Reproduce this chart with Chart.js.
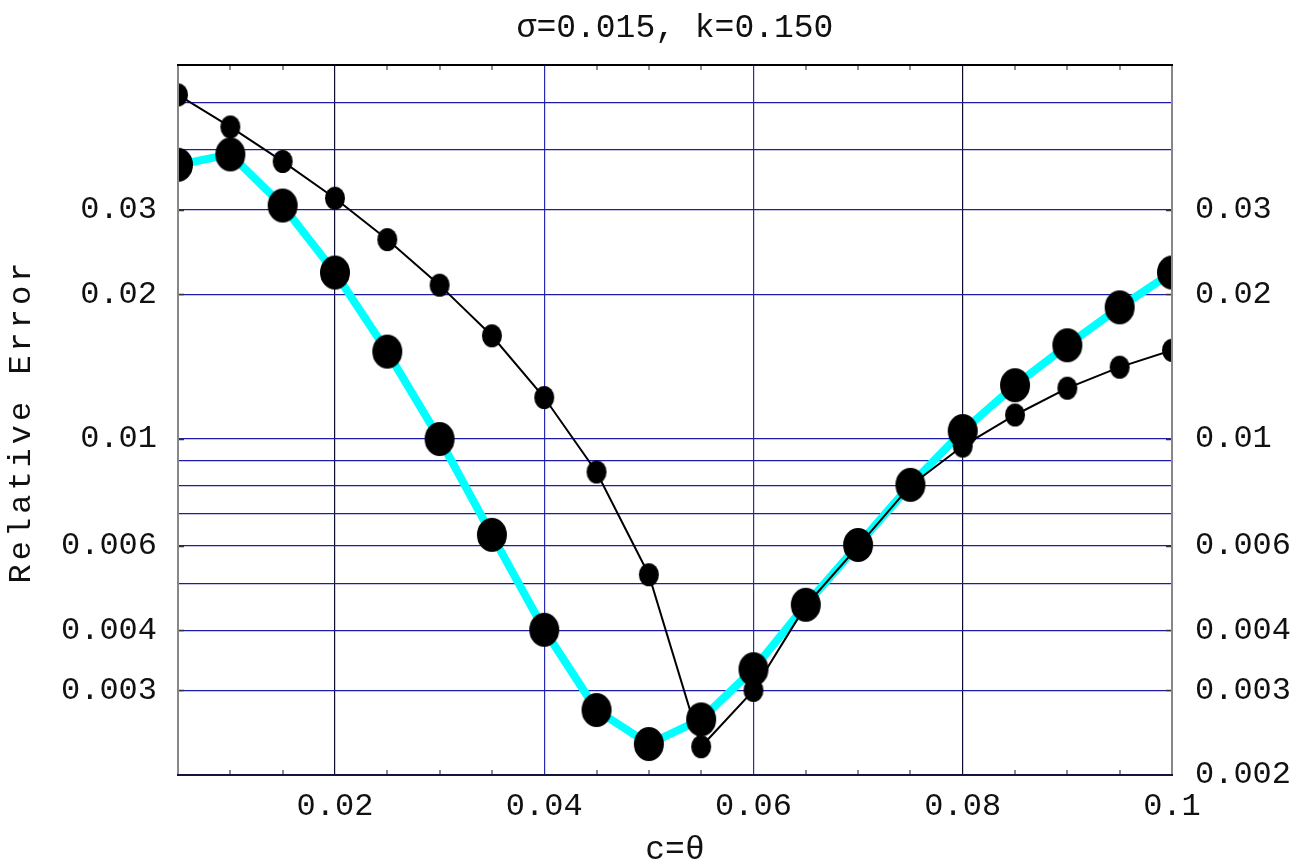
<!DOCTYPE html>
<html>
<head>
<meta charset="utf-8">
<script src="https://cdn.jsdelivr.net/npm/chart.js@4.4.1/dist/chart.umd.min.js"></script>
<style>
  html, body { margin: 0; padding: 0; background: #fff; }
  #wrap { width: 1305px; height: 868px; }
</style>
</head>
<body>
<div id="wrap"><canvas id="chart" width="1305" height="868"></canvas></div>
<script>
// c = theta sample points
const cTheta = [0.005, 0.01, 0.015, 0.02, 0.025, 0.03, 0.035, 0.04, 0.045, 0.05,
                0.055, 0.06, 0.065, 0.07, 0.075, 0.08, 0.085, 0.09, 0.095, 0.1];

// relative error, thick cyan curve
const errFit = [0.0372, 0.0391, 0.0306, 0.0222, 0.0152, 0.0100, 0.00632, 0.00401, 0.00273, 0.00232,
                0.00261, 0.00332, 0.00452, 0.00602, 0.00803, 0.01039, 0.01294, 0.01567, 0.01879, 0.0222];

// relative error, thin black curve
const errRaw = [0.0520, 0.0446, 0.0378, 0.0317, 0.0260, 0.0209, 0.0164, 0.0122, 0.00854, 0.00522,
                0.00229, 0.00300, 0.00450, 0.00598, 0.00800, 0.00967, 0.01122, 0.01276, 0.01411, 0.0153];

const xTicks = [0.02, 0.04, 0.06, 0.08, 0.1];
const xMinorTicks = [0.01, 0.015, 0.025, 0.03, 0.035, 0.045, 0.05, 0.055, 0.065, 0.07, 0.075, 0.085, 0.09, 0.095];
const yGrid = [0.003, 0.004, 0.005, 0.006, 0.007, 0.008, 0.009, 0.01, 0.02, 0.03, 0.04, 0.05];
const yLabelsLeft = [0.003, 0.004, 0.006, 0.01, 0.02, 0.03];
const yLabelsRight = [0.002, 0.003, 0.004, 0.006, 0.01, 0.02, 0.03];

const FONT = 'Liberation Mono';

function ellipseMarker(rx, ry) {
  const c = document.createElement('canvas');
  c.width = rx * 2 + 2;
  c.height = ry * 2 + 2;
  const g = c.getContext('2d');
  g.fillStyle = '#000';
  g.beginPath();
  g.ellipse(c.width / 2, c.height / 2, rx, ry, 0, 0, Math.PI * 2);
  g.fill();
  return c;
}

const bigDot = ellipseMarker(15, 17);
const smallDot = ellipseMarker(10, 11.5);

const frame = {
  id: 'frame',
  afterDatasetsDraw(chart) {
    const { ctx, chartArea: a, scales } = chart;
    const seg = (x1, y1, x2, y2) => {
      ctx.beginPath();
      ctx.moveTo(x1, y1);
      ctx.lineTo(x2, y2);
      ctx.stroke();
    };
    ctx.save();

    // small inward ticks on top and bottom edges
    ctx.strokeStyle = '#666';
    ctx.lineWidth = 1.5;
    xMinorTicks.forEach((v) => {
      const px = Math.round(scales.x.getPixelForValue(v));
      seg(px, a.top, px, a.top + 5);
      seg(px, a.bottom, px, a.bottom - 5);
    });

    // ticks on left and right edges
    ctx.strokeStyle = '#333';
    yLabelsLeft.forEach((v) => {
      const py = Math.round(scales.y.getPixelForValue(v)) + 0.5;
      seg(a.left, py, a.left + 6, py);
      seg(a.right, py, a.right - 6, py);
    });

    // plot frame
    ctx.lineWidth = 2;
    ctx.strokeStyle = '#888';
    seg(a.left, a.top, a.left, a.bottom);
    seg(a.right, a.top, a.right, a.bottom);
    ctx.strokeStyle = '#000';
    seg(a.left - 1, a.top, a.right + 1, a.top);
    ctx.strokeStyle = '#14143c';
    seg(a.left - 1, a.bottom, a.right + 1, a.bottom);
    ctx.restore();
  },
  afterDraw(chart) {
    const { ctx, chartArea: a } = chart;
    const cx = (a.left + a.right) / 2;
    ctx.save();
    ctx.fillStyle = '#111';
    ctx.font = `33px "${FONT}"`;
    ctx.textAlign = 'center';
    ctx.textBaseline = 'middle';
    ctx.fillText('σ=0.015, k=0.150', cx, 28);
    ctx.fillText('c=θ', cx, 850);

    ctx.font = `32px "${FONT}"`;
    ctx.translate(22, 423);
    ctx.rotate(-Math.PI / 2);
    ctx.letterSpacing = '4px';
    ctx.fillText('Relative Error', 2, 0);
    ctx.restore();
  },
};

const gridColorX = (ctx) => {
  const v = ctx.tick && ctx.tick.value;
  if (v === 0.1) return 'rgba(0,0,0,0)';
  return (v === 0.02 || v === 0.08) ? '#0c0c30' : '#2a2ab0';
};

new Chart(document.getElementById('chart'), {
  type: 'line',
  data: {
    datasets: [
      {
        label: 'raw',
        data: cTheta.map((c, i) => ({ x: c, y: errRaw[i] })),
        borderColor: '#000',
        borderWidth: 2,
        pointStyle: smallDot,
        pointRadius: 10,
        tension: 0,
        clip: 0,
        order: 0,
      },
      {
        label: 'fit',
        data: cTheta.map((c, i) => ({ x: c, y: errFit[i] })),
        borderColor: '#00ffff',
        borderWidth: 8,
        pointStyle: bigDot,
        pointRadius: 15,
        tension: 0,
        clip: 0,
        order: 1,
      },
    ],
  },
  options: {
    responsive: false,
    animation: false,
    events: [],
    layout: { padding: { top: 65, left: 0, right: 0, bottom: 0 } },
    plugins: {
      legend: { display: false },
      tooltip: { enabled: false },
      title: { display: false },
    },
    scales: {
      x: {
        type: 'linear',
        min: 0.005,
        max: 0.1,
        afterBuildTicks: (scale) => { scale.ticks = xTicks.map((v) => ({ value: v })); },
        afterFit: (scale) => { scale.height = 93; },
        grid: { color: gridColorX, lineWidth: 1.2, drawTicks: false },
        border: { display: false },
        ticks: {
          autoSkip: false,
          maxRotation: 0,
          padding: 12,
          color: '#111',
          font: { family: FONT, size: 32 },
          callback: (v) => String(v),
        },
      },
      y: {
        type: 'logarithmic',
        position: 'left',
        min: 0.002,
        max: 0.06,
        afterBuildTicks: (scale) => { scale.ticks = yGrid.map((v) => ({ value: v })); },
        afterFit: (scale) => { scale.width = 178; },
        grid: { color: '#1c1ca8', lineWidth: 1.2, drawTicks: false },
        border: { display: false },
        ticks: {
          autoSkip: false,
          padding: 21,
          color: '#111',
          font: { family: FONT, size: 32 },
          callback: (v) => (yLabelsLeft.includes(v) ? String(v) : ''),
        },
      },
      y2: {
        type: 'logarithmic',
        position: 'right',
        min: 0.002,
        max: 0.06,
        afterBuildTicks: (scale) => { scale.ticks = yLabelsRight.map((v) => ({ value: v })); },
        afterFit: (scale) => { scale.width = 133; },
        grid: { display: false, drawTicks: false },
        border: { display: false },
        ticks: {
          autoSkip: false,
          padding: 23,
          color: '#111',
          font: { family: FONT, size: 32 },
          callback: (v) => String(v),
        },
      },
    },
  },
  plugins: [frame],
});
</script>
</body>
</html>
